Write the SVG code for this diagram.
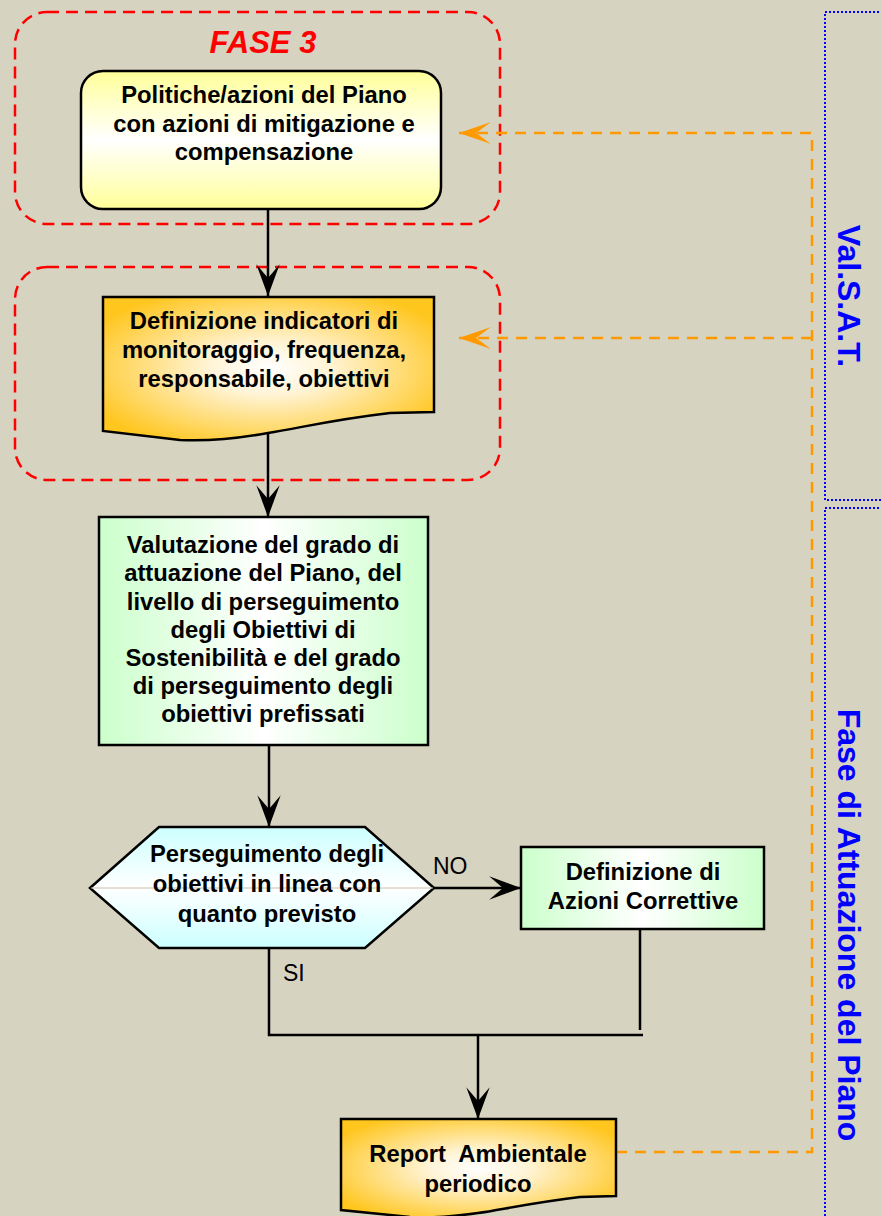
<svg xmlns="http://www.w3.org/2000/svg" width="881" height="1216" viewBox="0 0 881 1216">
<style>
.bg{fill:#d7d3c1}
.grp{fill:none;stroke:#ff0000;stroke-width:2.5;stroke-dasharray:12 7}
.lane{fill:none;stroke:#0000ff;stroke-width:2;stroke-dasharray:2 2}
.shape{stroke:#000;stroke-width:2.5}
.t{font-family:"Liberation Sans",Arial,sans-serif;font-weight:bold;font-size:23.8px;fill:#000;text-anchor:middle}
.lbl{font-family:"Liberation Sans",Arial,sans-serif;font-size:23px;fill:#000}
.vt{font-family:"Liberation Sans",Arial,sans-serif;font-weight:bold;font-size:32px;fill:#0000ff;text-anchor:middle}
.fase{font-family:"Liberation Sans",Arial,sans-serif;font-weight:bold;font-style:italic;font-size:31px;fill:#ff0000;text-anchor:middle}
.con{fill:none;stroke:#000;stroke-width:2.5}
.feed{fill:none;stroke:#ff9900;stroke-width:2.5;stroke-dasharray:11 8}
</style>
<defs>
<linearGradient id="gYellow" x1="0" y1="0" x2="0" y2="1">
<stop offset="0" stop-color="#ffff99"/>
<stop offset="0.5" stop-color="#ffffff"/>
<stop offset="1" stop-color="#ffff99"/>
</linearGradient>
<radialGradient id="gOrange" cx="0.5" cy="0.5" r="0.6">
<stop offset="0" stop-color="#ffffff"/>
<stop offset="0.3" stop-color="#fff4d6"/>
<stop offset="1" stop-color="#ffc61e"/>
</radialGradient>
<linearGradient id="gGreen" x1="0" y1="0" x2="1" y2="0">
<stop offset="0" stop-color="#ccffcc"/>
<stop offset="0.5" stop-color="#ffffff"/>
<stop offset="1" stop-color="#ccffcc"/>
</linearGradient>
<linearGradient id="gCyan" x1="0" y1="0" x2="0" y2="1">
<stop offset="0" stop-color="#ccffff"/>
<stop offset="0.5" stop-color="#ffffff"/>
<stop offset="1" stop-color="#ccffff"/>
</linearGradient>
<marker id="ah" markerUnits="userSpaceOnUse" markerWidth="34" markerHeight="26" viewBox="-31 -12 32 24" refX="0" refY="0" orient="auto">
<path d="M0,0 L-30,-11 L-17,0 L-30,11 Z" fill="#000"/>
</marker>
<marker id="ahO" markerUnits="userSpaceOnUse" markerWidth="34" markerHeight="26" viewBox="-33 -12 34 24" refX="0" refY="0" orient="auto">
<path d="M0,0 L-32,-11 L-17,0 L-32,11 Z" fill="#ff9900"/>
</marker>
</defs>
<rect class="bg" x="0" y="0" width="881" height="1216"/>

<g id="lanes">
<rect class="lane" x="825" y="12" width="120" height="488"/>
<rect class="lane" x="825" y="508" width="120" height="760"/>
<text class="vt" transform="translate(838,296) rotate(90)">Val.S.A.T.</text>
<text class="vt" transform="translate(838,925) rotate(90)">Fase di Attuazione del Piano</text>
</g>

<g id="groups">
<rect class="grp" x="15" y="12" width="485" height="212" rx="32"/>
<text class="fase" x="263" y="53">FASE 3</text>
<rect class="grp" x="15" y="267" width="485" height="213" rx="32"/>
</g>

<g id="connectors">
<line class="con" x1="268" y1="209" x2="268" y2="296" marker-end="url(#ah)"/>
<line class="con" x1="268" y1="434" x2="268" y2="517" marker-end="url(#ah)"/>
<line class="con" x1="269" y1="745" x2="269" y2="827" marker-end="url(#ah)"/>
<line class="con" x1="434" y1="888" x2="521" y2="888" marker-end="url(#ah)"/>
<polyline class="con" points="269,948 269,1035 643,1035"/>
<line class="con" x1="640" y1="929" x2="640" y2="1030"/>
<line class="con" x1="478" y1="1035" x2="478" y2="1119" marker-end="url(#ah)"/>
<text class="lbl" x="433" y="874">NO</text>
<text class="lbl" x="283" y="981">SI</text>
<path class="feed" d="M616,1152 H812 V133 H459" marker-end="url(#ahO)"/>
<path class="feed" d="M812,338 H459" marker-end="url(#ahO)"/>
</g>

<g id="n1">
<rect class="shape" x="81" y="71" width="360" height="138" rx="22" fill="url(#gYellow)"/>
<text class="t" x="264" y="103">Politiche/azioni del Piano</text>
<text class="t" x="264" y="132">con azioni di mitigazione e</text>
<text class="t" x="264" y="160">compensazione</text>
</g>

<g id="n2">
<path class="shape" fill="url(#gOrange)" d="M103,297 H434 V412 L390,413 C330,420 300,428 268,433 C230,440 200,441 180,440 L103,431 Z"/>
<text class="t" x="264" y="329">Definizione indicatori di</text>
<text class="t" x="264" y="358">monitoraggio, frequenza,</text>
<text class="t" x="264" y="387">responsabile, obiettivi</text>
</g>

<g id="n3">
<rect class="shape" x="99" y="517" width="329" height="228" fill="url(#gGreen)"/>
<text class="t" x="263" y="553">Valutazione del grado di</text>
<text class="t" x="263" y="581">attuazione del Piano, del</text>
<text class="t" x="263" y="610">livello di perseguimento</text>
<text class="t" x="263" y="638">degli Obiettivi di</text>
<text class="t" x="263" y="666">Sostenibilità e del grado</text>
<text class="t" x="263" y="694">di perseguimento degli</text>
<text class="t" x="263" y="722">obiettivi prefissati</text>
</g>

<g id="n4">
<polygon class="shape" fill="url(#gCyan)" points="90,888 159,827 365,827 434,888 365,948 159,948"/>
<line x1="91" y1="888" x2="433" y2="888" stroke="#c9c0a6" stroke-width="1"/>
<text class="t" x="267" y="862">Perseguimento degli</text>
<text class="t" x="267" y="892">obiettivi in linea con</text>
<text class="t" x="267" y="922">quanto previsto</text>
</g>

<g id="n5">
<rect class="shape" x="521" y="847" width="243" height="82" fill="url(#gGreen)"/>
<text class="t" x="643" y="880">Definizione di</text>
<text class="t" x="643" y="909">Azioni Correttive</text>
</g>

<g id="n6">
<path class="shape" fill="url(#gOrange)" d="M341,1119 H616 V1196 L580,1197 C530,1203 500,1210 478,1213 C450,1217 425,1218 410,1217 L341,1210 Z"/>
<text class="t" x="478" y="1162">Report&#160; Ambientale</text>
<text class="t" x="478" y="1192">periodico</text>
</g>
</svg>
